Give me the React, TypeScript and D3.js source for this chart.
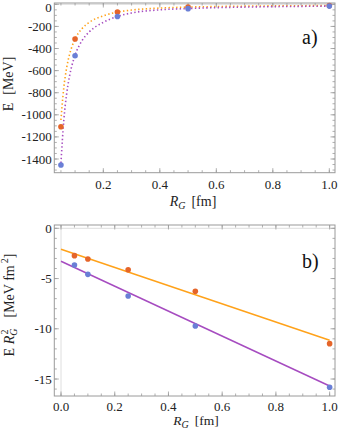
import React from 'react';
import * as d3 from 'd3';

// measured points: R_G [fm] and energies for the two sets
const rG = [0.05, 0.1, 0.25, 0.5, 1.0];
const energyOrange = [-1108, -314, -70, -25, -11.5];
const energyBlue = [-1454, -465, -110, -39, -16];

// dotted fit curves in panel a)
const curveR = [0.05, 0.06, 0.07, 0.08, 0.09, 0.1, 0.125, 0.15, 0.2, 0.25, 0.3, 0.4, 0.5, 0.6, 0.7, 0.8, 0.9, 1.0];
const curveOrange = [-1047, -756, -577, -458, -375, -314, -218, -163, -104, -70, -52, -34, -25, -20, -16.5, -14, -12.5, -11];
const curveBlue = [-1436, -1053, -815, -655, -543, -460, -327, -250, -163, -110, -78, -50, -38, -30, -25, -21, -18.5, -16];

// panel b): E * R_G^2 [MeV fm^2]
const scaledOrange = [-2.72, -3.05, -4.12, -6.27, -11.48];
const scaledBlue = [-3.65, -4.58, -6.74, -9.72, -15.82];
const lineR = [0, 1];
const lineOrange = [-2.09, -11.14];
const lineBlue = [-3.28, -15.7];

// tick labels
const xTicks = [0.2, 0.4, 0.6, 0.8, 1.0];
const xTicksB = [0.0, 0.2, 0.4, 0.6, 0.8, 1.0];
const yTicksA = [0, -200, -400, -600, -800, -1000, -1200, -1400];
const yTicksB = [0, -5, -10, -15];

const ORANGE_PT = '#e5652a';
const BLUE_PT = '#6a7fd6';
const ORANGE_LN = '#ffa21a';
const PURPLE_LN = '#a64cc0';
const FRAME = '#9a9a9a';
const FONT = 'Liberation Serif';

type Scale = d3.ScaleLinear<number, number>;

const Frame = ({ x, y, xMajor, xMinor, yMajor, yMinor, xFmt, yFmt, labelDy }: {
  x: Scale; y: Scale; xMajor: number[]; xMinor: number[]; yMajor: number[]; yMinor: number[];
  xFmt: (v: number) => string; yFmt: (v: number) => string; labelDy: number;
}) => {
  const [x0, x1] = x.range();
  const [y0, y1] = y.range(); // y0 bottom, y1 top
  const maj = 4.5, min = 2.5;
  return (
    <g>
      {xMinor.map((v, i) => (
        <g key={'xm' + i} stroke={FRAME} strokeWidth={0.8}>
          <line x1={x(v)} x2={x(v)} y1={y0} y2={y0 - min} />
          <line x1={x(v)} x2={x(v)} y1={y1} y2={y1 + min} />
        </g>
      ))}
      {xMajor.map((v, i) => (
        <g key={'xM' + i}>
          <line x1={x(v)} x2={x(v)} y1={y0} y2={y0 - maj} stroke={FRAME} strokeWidth={0.8} />
          <line x1={x(v)} x2={x(v)} y1={y1} y2={y1 + maj} stroke={FRAME} strokeWidth={0.8} />
          <text x={x(v)} y={y0 + labelDy} textAnchor="middle" fontSize={13} fontFamily={FONT} fill="#222">{xFmt(v)}</text>
        </g>
      ))}
      {yMinor.map((v, i) => (
        <g key={'ym' + i} stroke={FRAME} strokeWidth={0.8}>
          <line x1={x0} x2={x0 + min} y1={y(v)} y2={y(v)} />
          <line x1={x1} x2={x1 - min} y1={y(v)} y2={y(v)} />
        </g>
      ))}
      {yMajor.map((v, i) => (
        <g key={'yM' + i}>
          <line x1={x0} x2={x0 + maj} y1={y(v)} y2={y(v)} stroke={FRAME} strokeWidth={0.8} />
          <line x1={x1} x2={x1 - maj} y1={y(v)} y2={y(v)} stroke={FRAME} strokeWidth={0.8} />
          <text x={x0 - 2.5} y={Math.max(y(v), 7)} dy="0.35em" textAnchor="end" fontSize={13} fontFamily={FONT} fill="#222">{yFmt(v)}</text>
        </g>
      ))}
      <rect x={x0} y={y1} width={x1 - x0} height={y0 - y1} fill="none" stroke={FRAME} strokeWidth={1} />
    </g>
  );
};

const App = () => {
  // panel a)
  const xA = d3.scaleLinear().domain([0.0265, 1.0201]).range([54.3, 335]);
  const yA = d3.scaleLinear().domain([-1524, 12]).range([172.7, 3]);
  // panel b)
  const xB = d3.scaleLinear().domain([-0.025, 1.02]).range([54.3, 335]);
  const yB = d3.scaleLinear().domain([-16.69, 0.33]).range([396, 225]);

  const curveA = d3.line<number>().x((_, i) => xA(curveR[i])).y(d => yA(d)).curve(d3.curveMonotoneX);
  const lineB = d3.line<number>().x((_, i) => xB(lineR[i])).y(d => yB(d));

  const fmtX = (v: number) => v.toFixed(1);
  const fmtY = (v: number) => (v < 0 ? '-' + Math.abs(v) : String(v));

  return (
    <svg width={338} height={434} style={{ position: 'absolute', left: 0, top: 0, background: '#fff' }}>
      {/* panel a) */}
      <line x1={xA.range()[0]} x2={xA.range()[1]} y1={yA(0)} y2={yA(0)} stroke="#d6d6d6" strokeWidth={0.8} />
      <Frame x={xA} y={yA} xMajor={xTicks} xMinor={d3.range(0.05, 1.001, 0.05)}
        yMajor={yTicksA} yMinor={d3.range(-1500, 1, 50)} xFmt={fmtX} yFmt={fmtY} labelDy={16} />
      <path d={curveA(curveOrange) || ''} fill="none" stroke={ORANGE_LN} strokeWidth={1.6} strokeDasharray="1.4 2.4" />
      <path d={curveA(curveBlue) || ''} fill="none" stroke={PURPLE_LN} strokeWidth={1.6} strokeDasharray="1.4 2.4" />
      {rG.map((r, i) => <circle key={'ao' + i} cx={xA(r)} cy={yA(energyOrange[i])} r={2.8} fill={ORANGE_PT} />)}
      {rG.map((r, i) => <circle key={'ab' + i} cx={xA(r)} cy={yA(energyBlue[i])} r={2.8} fill={BLUE_PT} />)}
      <text x={302} y={44} fontSize={20} fontFamily={FONT} fill="#111">a)</text>
      <text x={193} y={206} textAnchor="middle" fontSize={14} fontFamily={FONT} fill="#222">
        <tspan fontStyle="italic">R</tspan><tspan fontStyle="italic" fontSize={10} dy={3}>G</tspan>
        <tspan dy={-3} dx={6}>[fm]</tspan>
      </text>
      <text transform="translate(13,84) rotate(-90)" textAnchor="middle" fontSize={14} fontFamily={FONT} fill="#222">
        E<tspan dx={8}>[MeV]</tspan>
      </text>

      {/* panel b) */}
      <line x1={xB.range()[0]} x2={xB.range()[1]} y1={yB(0)} y2={yB(0)} stroke="#d6d6d6" strokeWidth={0.8} />
      <line x1={xB(0)} x2={xB(0)} y1={yB.range()[0]} y2={yB.range()[1]} stroke="#d6d6d6" strokeWidth={0.8} />
      <Frame x={xB} y={yB} xMajor={xTicksB} xMinor={d3.range(0, 1.001, 0.05)}
        yMajor={yTicksB} yMinor={d3.range(-16, 0.001, 1)} xFmt={fmtX} yFmt={fmtY} labelDy={14.5} />
      <path d={lineB(lineOrange) || ''} fill="none" stroke={ORANGE_LN} strokeWidth={1.5} />
      <path d={lineB(lineBlue) || ''} fill="none" stroke={PURPLE_LN} strokeWidth={1.5} />
      {rG.map((r, i) => <circle key={'bo' + i} cx={xB(r)} cy={yB(scaledOrange[i])} r={2.8} fill={ORANGE_PT} />)}
      {rG.map((r, i) => <circle key={'bb' + i} cx={xB(r)} cy={yB(scaledBlue[i])} r={2.8} fill={BLUE_PT} />)}
      <text x={302} y={268} fontSize={20} fontFamily={FONT} fill="#111">b)</text>
      <text x={196} y={425} textAnchor="middle" fontSize={13.5} fontFamily={FONT} fill="#222">
        <tspan fontStyle="italic">R</tspan><tspan fontStyle="italic" fontSize={10} dy={3}>G</tspan>
        <tspan dy={-3} dx={6}>[fm]</tspan>
      </text>
      <text transform="translate(14,305) rotate(-90)" textAnchor="middle" fontSize={14} fontFamily={FONT} fill="#222">
        E <tspan fontStyle="italic">R</tspan>
        <tspan fontStyle="italic" fontSize={10} dy={3}>G</tspan>
        <tspan fontSize={10} dy={-9} dx={-6}>2</tspan>
        <tspan dy={6} dx={12}>[MeV fm</tspan>
        <tspan fontSize={10} dy={-6} dx={2}>2</tspan>
        <tspan dy={6}>]</tspan>
      </text>
    </svg>
  );
};

export default App;
